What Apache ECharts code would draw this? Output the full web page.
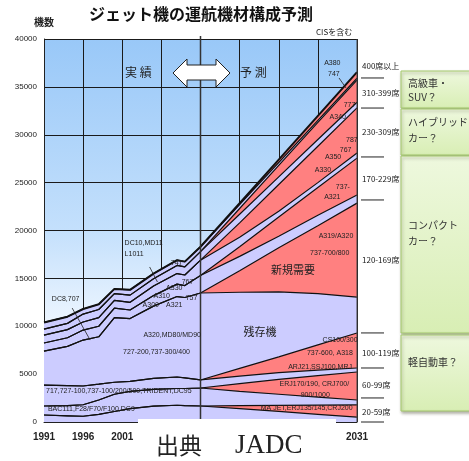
<!DOCTYPE html>
<html><head><meta charset="utf-8">
<script src="https://cdn.jsdelivr.net/npm/echarts@6/dist/echarts.min.js"></script>
<style>html,body{margin:0;padding:0;background:#fff}#c{width:469px;height:461px}</style>
</head><body><div id="c"></div>
<script>
// ---- data (cumulative boundaries) ----
const years = [1991,1994,1996,1998,2000,2002,2005,2008,2009,2011,2016,2021,2026,2031];
const b400new = [10400,11000,11800,12300,13900,13800,15500,16900,16750,18300,22850,27400,31970,36540];
const b400old = [10400,11000,11800,12300,13900,13800,15500,16900,16750,18300,22700,27100,31500,35900];
const b310new = [9700,10300,11270,11750,13400,13250,14950,16350,16200,17800,22300,26800,31300,35700];
const b310old = [9700,10300,11270,11750,13400,13250,14950,16350,16200,17800,21700,25600,29500,33400];
const b230new = [9080,9650,10440,10900,12700,12500,14200,15500,15350,16900,20800,24800,28800,32800];
const b230old = [9080,9650,10440,10900,12700,12500,14200,15500,15350,16900,19300,22000,25000,28100];
const b170new = [8250,8800,9600,10000,11900,11700,13200,14400,14250,15300,18300,21400,24500,27560];
const b170old = [8250,8800,9600,10000,11900,11700,13200,14400,14250,15300,17300,19400,21600,23700];
const b120new = [7410,7900,8560,8900,10900,10800,12100,13100,13000,13470,15800,18200,20500,22860];
const b120old = [7410,7900,8560,8900,10900,10800,12100,13100,13000,13470,13550,13600,13400,13050];
const b100new = [3860,3800,3760,3950,4150,4250,4550,4700,4600,4390,5600,6800,8050,9300];
const b100old = [3860,3800,3760,3950,4150,4250,4550,4700,4600,4390,4800,5150,5420,5640];
const b60new  = [1670,1700,1800,2300,2900,3200,3400,3500,3500,3550,4000,4450,4850,5220];
const b60old  = [1670,1700,1800,2300,2900,3200,3400,3500,3500,3550,3200,2900,2600,2300];
const b20new  = [730,650,600,800,1100,1400,1650,1750,1720,1670,1700,1730,1760,1780];
const b20old  = [730,650,600,800,1100,1400,1650,1750,1720,1670,1400,1100,800,500];

const xTickLabels = ['1991','1996','2001','2031'];
const yMax = 40000, yStep = 5000;

const classLabels   = ['400席以上','310-399席','230-309席','170-229席','120-169席','100-119席','60-99席','20-59席'];
const classLabelVal = [37180,34350,30290,25380,16920,7210,3860,1040];
const classSepVal   = [35930,32790,27680,23190,9300,5640,2510,0];

// inner annotations: [text, year, value, size]
const notes = [
  ['DC8,707',1992.0,12850,7],['DC10,MD11',2001.3,18700,7],['L1011',2001.3,17550,7],
  ['747',2007.2,16600,7],['A330',2006.6,14000,7],['767',2008.6,14600,7],
  ['A310',2005.0,13150,7],['A300',2003.6,12220,7],['A321',2006.6,12220,7],['757',2009.1,12950,7],
  ['A320,MD80/MD90',2003.7,9090,7],['727-200,737-300/400',2001.1,7310,7],
  ['717,727-100,737-100/200/500,TRIDENT,DC95',1991.26,3240,7],['BAC111,F28/F70/F100,DC9',1991.5,1360,7],
  ['残存機',2016.5,9400,11],['新規需要',2020.0,15870,11],
  ['A319/A320',2026.1,19420,7],['737-700/800',2025.0,17650,7],['737-',2028.3,24540,7],['A321',2026.8,23500,7],
  ['A330',2025.6,26320,7],['A350',2026.9,27680,7],['767',2028.8,28410,7],['787',2029.6,29450,7],
  ['A340',2027.5,31850,7],['777',2029.3,33110,7],['A380',2026.8,37490,7],['747',2027.3,36340,7],
  ['CS100/300',2026.6,8560,7],['737-600, A318',2024.6,7210,7],['ARJ21,SSJ100,MRJ',2022.2,5740,7],
  ['ERJ170/190, CRJ700/',2021.1,3970,7],['900/1000',2023.8,2820,7],['MA JET,ERJ135/145,CRJ200',2018.7,1460,7]
];
const pointers = [
  [[1994.6,11900],[1996.9,8560]],
  [[2004.5,16190],[2005.5,14620]],
  [[2028.7,35930],[2029.6,34880]]
];

const RED = '#FF8080', LAV = '#CCCCFF';
const SANS = '"Liberation Sans", Arial, sans-serif';
const JP = '"Noto Sans CJK JP", sans-serif';

function band(data, color, lw) {
  return {
    type: 'line', data: years.map((y, i) => [y - 1991, data[i]]),
    showSymbol: false, symbol: 'none', silent: true, animation: false,
    lineStyle: { color: '#111', width: lw || 1.2 },
    areaStyle: { color: color, opacity: 1 }
  };
}

const chart = echarts.init(document.getElementById('c'));
chart.setOption({
  animation: false,
  grid: {
    left: 44, right: 112, top: 39, bottom: 39, show: true, borderWidth: 0,
    backgroundColor: new echarts.graphic.LinearGradient(0, 0, 0, 1, [
      {offset: 0, color: '#99C8F8'}, {offset: 0.5, color: '#C4E0FC'},
      {offset: 0.75, color: '#EEF6FF'}, {offset: 1, color: '#FFFFFF'}])
  },
  xAxis: {
    type: 'value', min: 0, max: 40, interval: 5,
    axisLine: {show: true, lineStyle: {color: '#222', width: 1}},
    axisTick: {show: true, inside: true, length: 5, lineStyle: {color: '#222'}},
    axisLabel: {
      margin: 10, fontSize: 10, fontWeight: 'bold', color: '#222', fontFamily: SANS,
      formatter: v => { const s = String(1991 + v); return xTickLabels.includes(s) ? s : ''; }
    },
    splitLine: {show: true, lineStyle: {color: '#1a1a1a', width: 1}}
  },
  yAxis: {
    type: 'value', min: 0, max: yMax, interval: yStep,
    axisLine: {show: true, lineStyle: {color: '#222'}},
    axisTick: {show: false},
    axisLabel: {margin: 7, fontSize: 8, color: '#222', fontFamily: SANS, formatter: v => String(v)},
    splitLine: {show: true, lineStyle: {color: '#1a1a1a', width: 1}}
  },
  series: [
    band(b400new, RED, 2), band(b400old, LAV), band(b310new, RED), band(b310old, LAV),
    band(b230new, RED), band(b230old, LAV), band(b170new, RED), band(b170old, LAV),
    band(b120new, RED), band(b120old, LAV), band(b100new, RED), band(b100old, LAV),
    band(b60new, RED), band(b60old, LAV), band(b20new, RED), band(b20old, LAV)
  ]
});

function px(yr, v) { return chart.convertToPixel({gridIndex: 0}, [yr - 1991, v]); }
const g = [];
const Z = 100;
function txt(t, x, y, size, opts) {
  g.push({type: 'text', x: x, y: y, z: Z, silent: true,
    style: Object.assign({text: t, fontSize: size, fontFamily: SANS, fill: '#222',
      align: 'left', verticalAlign: 'middle'}, (opts && opts.style) || {})});
}
function line(x1, y1, x2, y2, color, w) {
  g.push({type: 'line', z: Z, silent: true, shape: {x1, y1, x2, y2},
    style: {stroke: color || '#111', lineWidth: w || 1}});
}

// 2011 divider and right edge
const p2011top = px(2011, yMax), p2011bot = px(2011, 0);
line(p2011top[0], p2011top[1] - 3, p2011bot[0], p2011bot[1], '#333', 1.5);
const pR1 = px(2031, yMax), pR2 = px(2031, 0);
line(pR1[0], pR1[1], pR2[0], pR2[1], '#444', 1);

// inner labels
notes.forEach(n => {
  const p = px(n[1], n[2]);
  txt(n[0], p[0], p[1], n[3], {style: {fontFamily: n[3] > 8 ? JP : SANS, fill: '#222'}});
});
pointers.forEach(pp => {
  const a = px(pp[0][0], pp[0][1]), b = px(pp[1][0], pp[1][1]);
  line(a[0], a[1], b[0], b[1], '#222', 0.8);
});

// title etc.
g.push({type: 'text', x: 201, y: 14, z: Z, silent: true,
  style: {text: 'ジェット機の運航機材構成予測', fontSize: 16, fontWeight: 'bold', fontFamily: JP,
    fill: '#111', align: 'center', verticalAlign: 'middle'}});
txt('機数', 34, 22, 10, {style: {fontFamily: JP, fontWeight: 'bold'}});
txt('CISを含む', 316, 32, 8, {style: {fontFamily: JP}});

// double arrow
g.push({type: 'polygon', z: Z, silent: true,
  shape: {points: [[173,73],[187,59],[187,65],[216,65],[216,59],[230,73],[216,87],[216,80],[187,80],[187,87]]},
  style: {fill: '#fff', stroke: '#222', lineWidth: 1}});
txt('実 績', 125, 72, 12, {style: {fontFamily: JP}});
txt('予 測', 240, 72, 12, {style: {fontFamily: JP}});

// right class labels and separators
classLabels.forEach((t, i) => {
  const p = px(2031, classLabelVal[i]);
  txt(t, 362, p[1], 8, {style: {fontFamily: JP, fill: '#1a1a1a'}});
  const s = px(2031, classSepVal[i]);
  line(361, s[1], 384, s[1], '#222', 1);
});

// green boxes
const boxes = [
  [71, 37, ['高級車・', 'SUV？'], [83, 97]],
  [109, 46, ['ハイブリッド', 'カー？'], [122, 138]],
  [156, 177, ['コンパクト', 'カー？'], [225, 241]],
  [335, 76, ['軽自動車？'], [362]]
];
boxes.forEach(b => {
  g.push({type: 'rect', z: Z, silent: true, shape: {x: 401, y: b[0], width: 80, height: b[1]},
    style: {fill: new echarts.graphic.LinearGradient(0, 0, 0, 1, [
      {offset: 0, color: '#EEF8DE'}, {offset: 1, color: '#D8EEB4'}]),
      stroke: '#A3C86A', lineWidth: 1, shadowBlur: 3, shadowOffsetX: 1, shadowOffsetY: 2,
      shadowColor: 'rgba(80,80,60,0.45)'}});
  b[2].forEach((t, k) => txt(t, 408, b[3][k], 10, {style: {fontFamily: JP, fill: '#333'}}));
});

// source box
g.push({type: 'rect', z: Z, silent: true, shape: {x: 138, y: 419, width: 198, height: 42},
  style: {fill: '#fff'}});
txt('出典', 156, 445, 23, {style: {fontFamily: JP, fill: '#222'}});
txt('JADC', 235, 446, 27, {style: {fontFamily: '"Liberation Serif", "DejaVu Serif", serif', fill: '#222'}});

chart.setOption({graphic: g});
</script></body></html>
